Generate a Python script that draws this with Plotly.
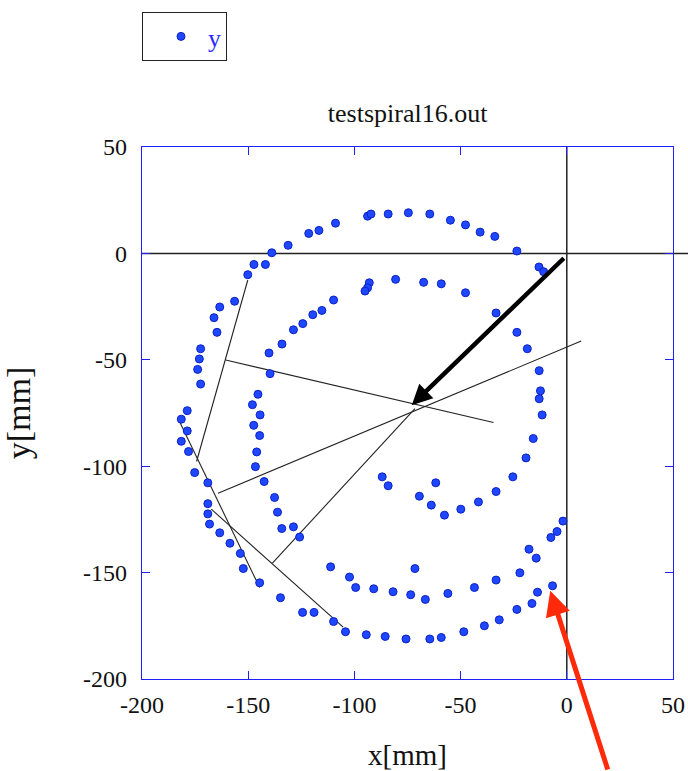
import plotly.graph_objects as go

# ---- data: spiral sample points (mm) ----
x_pts = [
    -181.5, -178.7, -172.4, -173.8, -173.0, -172.4, -164.7, -166.1, -163.4, -156.4,
    -150.2, -147.3, -141.9, -138.9, -131.2, -121.5, -116.7, -108.9, -93.8, -92.2,
    -84.1, -74.6, -64.5, -54.8, -47.7, -40.8, -33.9, -23.5, -13.1, -10.9,
    -80.6, -93.0, -93.8, -95.0, -109.8, -115.3, -119.6, -124.3, -128.7, -134.1,
    -140.2, -139.7, -145.4, -148.0, -144.4, -147.4, -144.6, -146.0, -146.6, -142.5,
    -137.6, -136.2, -134.2, -128.7, -125.8,
    -67.4, -59.1, -47.7,
    -33.3, -23.5, -18.6, -13.0, -12.4, -13.0, -11.6, -15.8, -19.2, -25.4,
    -33.3, -41.6, -49.9, -57.6, -63.8, -69.4, -61.7, -86.9, -84.1,
    -1.8, -4.6, -7.5, -17.8, -14.4, -22.1, -33.3, -43.5, -56.0, -66.6,
    -73.5, -71.5, -81.8, -90.9, -99.4, -102.3, -111.2,
    -6.7, -13.8, -16.4, -23.5, -31.8, -38.8, -48.5, -59.1, -64.5, -75.7,
    -85.5, -94.4, -104.2, -109.8, -119.0, -124.4, -134.8, -144.6, -152.3, -153.7,
    -158.6, -163.4, -168.2, -169.0, -169.0, -169.0, -175.2, -178.1, -181.5, -178.7,
]
y_pts = [
    -77.9, -73.9, -61.4, -54.5, -49.6, -44.8, -37.1, -30.2, -25.2, -22.5,
    -10.0, -5.2, -5.2, 0.3, 3.8, 9.4, 10.8, 14.2, 17.5, 18.5,
    18.5, 19.1, 18.5, 15.6, 13.4, 10.0, 8.0, 1.1, -6.4, -8.6,
    -12.2, -13.8, -16.2, -17.7, -21.9, -26.8, -28.8, -33.0, -35.9, -42.6,
    -46.8, -56.5, -66.2, -71.1, -75.9, -80.8, -85.6, -93.3, -100.2, -107.2,
    -114.7, -121.6, -129.3, -128.5, -133.3,
    -13.6, -14.3, -18.5,
    -28.0, -37.1, -44.8, -55.1, -64.6, -68.3, -75.9, -87.0, -96.1, -105.0,
    -111.9, -116.8, -120.2, -123.0, -118.3, -114.1, -107.8, -105.0, -109.2,
    -125.8, -130.7, -133.5, -139.0, -143.2, -150.1, -153.5, -157.0, -159.8, -162.6,
    -160.4, -148.1, -159.0, -157.6, -157.0, -152.1, -147.3,
    -156.2, -159.2, -164.5, -167.3, -172.2, -175.0, -177.8, -180.5, -181.2, -181.2,
    -180.0, -179.2, -177.8, -173.0, -168.7, -168.7, -161.8, -154.8, -148.1, -141.0,
    -136.2, -131.3, -127.2, -122.4, -117.6, -107.8, -103.0, -93.1, -88.3, -83.4,
]

# ---- thin construction line segments (start/end) ----
seg_x0 = [-150.2, -160.6, -164.2, -182.3, -167.4, -138.6]
seg_y0 = [-12.5, -50.1, -112.7, -79.1, -120.2, -145.5]
seg_x1 = [-174.3, -34.5, 6.8, -144.6, -105.3, -71.5]
seg_y1 = [-97.8, -79.5, -41.2, -157.0, -175.6, -73.0]

# ---- arrows ----
black_arrow_tail = (-0.7, -1.6)
black_arrow_tip = (-73.0, -71.3)
red_arrow_tip = (-7.8, -158.5)

tick_vals = [-200, -150, -100, -50, 0, 50]
tick_text = ["-200", "-150", "-100", "-50", "0", "50"]
x_range = [-200, 50]
y_range = [-200, 50]

SERIF = "Liberation Serif"
FRAME = "#1f1fff"

seg_x, seg_y = [], []
for a, b, c, d in zip(seg_x0, seg_y0, seg_x1, seg_y1):
    seg_x += [a, c, None]
    seg_y += [b, d, None]

fig = go.Figure()
fig.add_trace(go.Scatter(
    x=seg_x, y=seg_y, mode="lines",
    line=dict(color="#222222", width=1.1),
    showlegend=False, hoverinfo="skip",
))
fig.add_trace(go.Scatter(
    x=x_pts, y=y_pts, mode="markers", name="y",
    marker=dict(size=8, color="#1f47ff", line=dict(color="#0b22c4", width=1)),
))

# axis cross lines
fig.add_shape(type="line", xref="paper", yref="y", x0=0, x1=1.03, y0=0, y1=0,
              line=dict(color="#222222", width=1.5), layer="below")
fig.add_shape(type="line", xref="x", yref="y", x0=0, x1=0, y0=y_range[0], y1=y_range[1],
              line=dict(color="#222222", width=1.5), layer="below")

fig.add_annotation(
    x=black_arrow_tip[0], y=black_arrow_tip[1],
    ax=black_arrow_tail[0], ay=black_arrow_tail[1], axref="x", ayref="y",
    xref="x", yref="y", text="", showarrow=True,
    arrowhead=2, arrowsize=0.9, arrowwidth=4.5, arrowcolor="black",
)
fig.add_annotation(
    x=red_arrow_tip[0], y=red_arrow_tip[1], xref="x", yref="y",
    ax=58, ay=185, text="", showarrow=True,
    arrowhead=2, arrowsize=1.0, arrowwidth=5, arrowcolor="#ff2a0a",
)

axis_common = dict(
    showline=True, linecolor=FRAME, linewidth=1.2, mirror="ticks",
    ticks="inside", ticklen=8, tickcolor=FRAME, tickwidth=1.2,
    tickvals=tick_vals, ticktext=tick_text, showgrid=False, zeroline=False,
    automargin=False,
    tickfont=dict(family=SERIF, size=24, color="#111111"),
)
fig.update_xaxes(range=x_range, ticklabelstandoff=4,
                 title=dict(text="x[mm]", font=dict(family=SERIF, size=29, color="#111111"), standoff=30),
                 **axis_common)
fig.update_yaxes(range=y_range, ticklabelstandoff=9,
                 title=dict(text="y[mm]", font=dict(family=SERIF, size=34, color="#111111"), standoff=42),
                 **axis_common)

fig.update_layout(
    width=688, height=771,
    margin=dict(l=142, r=15, t=147, b=92, autoexpand=False),
    paper_bgcolor="white", plot_bgcolor="white",
    title=dict(text="testspiral16.out", x=0.5925, xanchor="center", y=0.853, yanchor="middle",
               font=dict(family=SERIF, size=26, color="#111111")),
    legend=dict(x=0, y=1.2538, xanchor="left", yanchor="top",
                bordercolor="#222222", borderwidth=1, bgcolor="white",
                indentation=11, itemwidth=44,
                font=dict(family=SERIF, size=26, color="#2a2aff")),
    showlegend=True,
)

fig.write_html("out.html")
